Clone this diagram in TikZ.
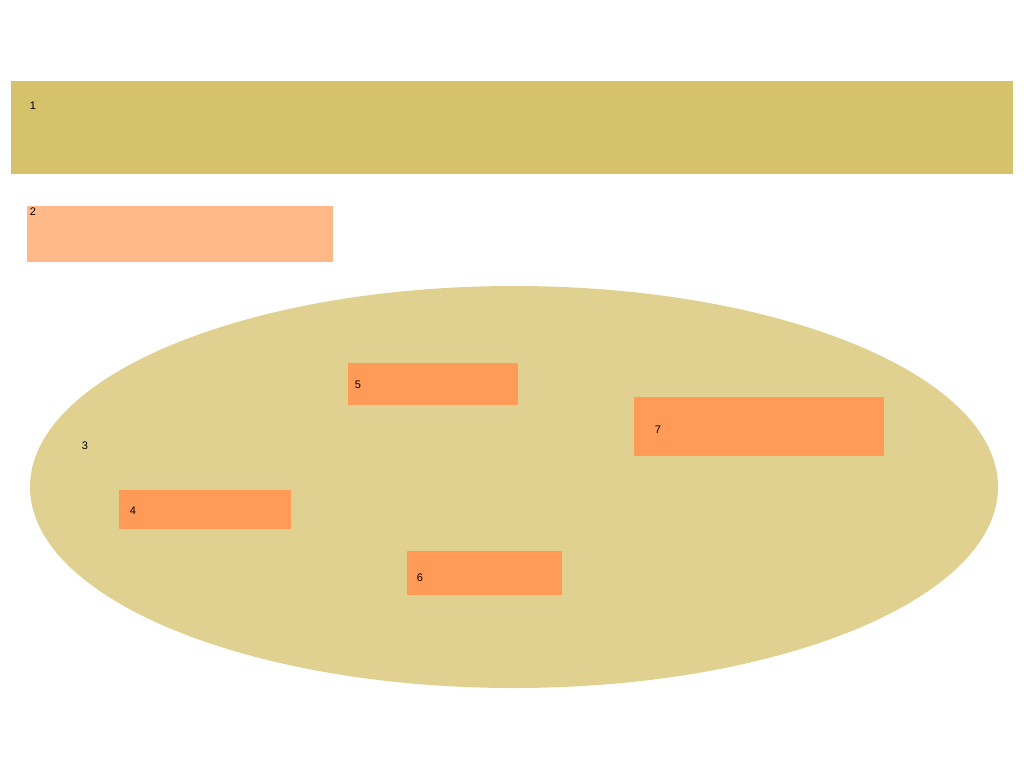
\documentclass[tikz,border=0pt]{standalone}
\usepackage{fontspec}
\setmainfont{Liberation Sans}
\usepackage{tikz}
\usetikzlibrary{positioning,shapes.geometric}
\definecolor{bandGold}{RGB}{214,194,107}
\definecolor{paleOrange}{RGB}{255,185,137}
\definecolor{ovalSand}{RGB}{224,209,144}
\definecolor{boxOrange}{RGB}{255,154,87}
\tikzset{
  block/.style={rectangle, inner sep=0pt, outer sep=0pt, anchor=north west},
  tag/.style={inner sep=0pt, font=\fontsize{11}{13}\selectfont, text=black}
}

\begin{document}
\begin{tikzpicture}[x=1pt,y=-1pt]
\useasboundingbox (0,0) rectangle (1024,768);
\node[block, fill=bandGold, minimum width=1002, minimum height=93] (band) at (11,81) {};
\node[tag] (l1) at (33,106) {1};

\node[block, fill=paleOrange, minimum width=306, minimum height=56] (top) at (27,206) {};
\node[tag] (l2) at (33,212) {2};

\node[ellipse, fill=ovalSand, inner sep=0pt, minimum width=968, minimum height=402] (oval) at (514,487) {};
\node[tag] (l3) at (85,446) {3};

% inner boxes
\foreach \nm/\xa/\ya/\w/\h in {four/119/490/172/39, five/348/363/170/42,
  six/407/551/155/44, seven/634/397/250/59}{
  \node[block, fill=boxOrange, minimum width=\w, minimum height=\h] (\nm) at (\xa,\ya) {};
}
\node[tag] (l4) at (133,511) {4};
\node[tag] (l5) at (358,385) {5};
\node[tag] (l6) at (420,578) {6};
\node[tag] (l7) at (658,430) {7};
\end{tikzpicture}
\end{document}
